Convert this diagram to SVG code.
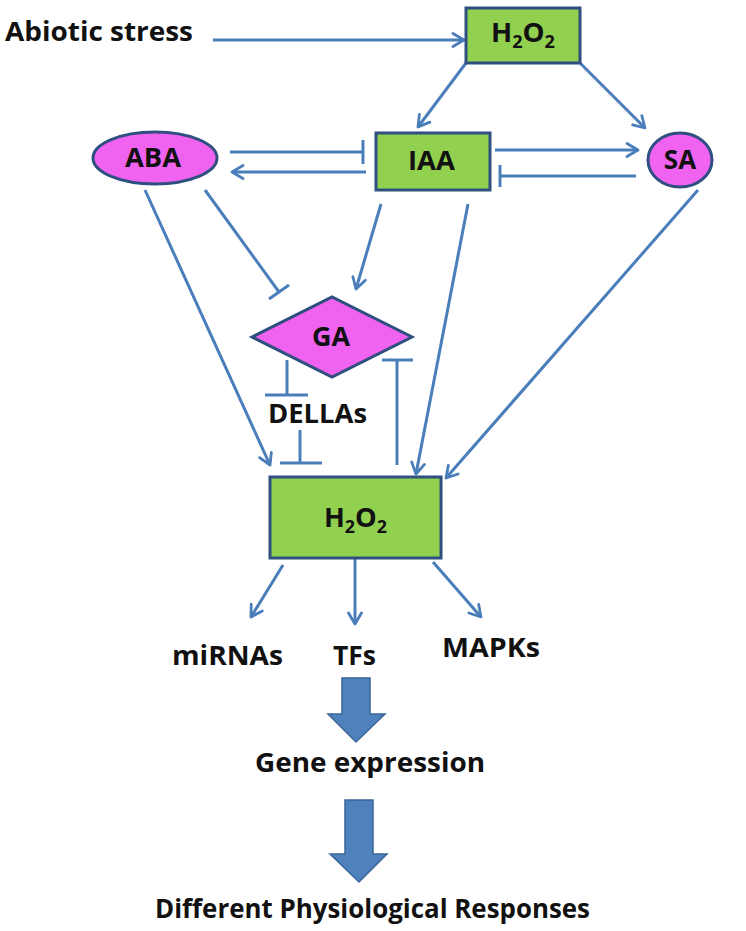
<svg xmlns="http://www.w3.org/2000/svg" width="746" height="931" viewBox="0 0 746 931">
<defs>
<marker id="arr" viewBox="0 0 16 16" refX="13" refY="8" markerWidth="16" markerHeight="16" markerUnits="userSpaceOnUse" orient="auto">
<path d="M2,1.5 L13,8 L2,14.5" fill="none" stroke="#4A7EBB" stroke-width="2.8" stroke-linecap="round" stroke-linejoin="round"/>
</marker>
</defs>
<style>
.t{font-family:"Open Sans","Liberation Sans",Arial,sans-serif;font-weight:bold;fill:#111;}
.box{fill:#92D050;stroke:#2F4F80;stroke-width:3;}
.pink{fill:#F062F0;stroke:#2F4F80;stroke-width:3;}
.c{fill:none;stroke:#4A7EBB;stroke-width:3;stroke-linecap:butt;}
.a{marker-end:url(#arr);}
.big{fill:#4F81BD;stroke:#3A6598;stroke-width:1.5;}
</style>
<rect width="746" height="931" fill="#fff"/>
<g id="connectors">
<line class="c a" x1="213" y1="40" x2="464" y2="40"/>
<line class="c a" x1="466" y1="63" x2="418" y2="127"/>
<line class="c a" x1="580" y1="63" x2="645" y2="128"/>
<line class="c" x1="230" y1="152" x2="363" y2="152"/>
<line class="c" x1="363" y1="140" x2="363" y2="164"/>
<line class="c a" x1="366" y1="172" x2="232" y2="172"/>
<line class="c a" x1="495" y1="150" x2="638" y2="150"/>
<line class="c" x1="636" y1="176" x2="500" y2="176"/>
<line class="c" x1="500" y1="165" x2="500" y2="187"/>
<line class="c a" x1="145" y1="190" x2="270" y2="465"/>
<line class="c" x1="205" y1="190" x2="279" y2="292"/>
<line class="c" x1="269" y1="299" x2="289" y2="285"/>
<line class="c a" x1="381" y1="204" x2="356" y2="289"/>
<line class="c a" x1="468" y1="204" x2="416" y2="474"/>
<line class="c a" x1="698" y1="190" x2="446" y2="478"/>
<line class="c" x1="287" y1="360" x2="287" y2="395"/>
<line class="c" x1="265" y1="395" x2="308" y2="395"/>
<line class="c" x1="300" y1="430" x2="300" y2="463"/>
<line class="c" x1="280" y1="463" x2="322" y2="463"/>
<line class="c" x1="397" y1="465" x2="397" y2="360"/>
<line class="c" x1="382" y1="360" x2="413" y2="360"/>
<line class="c a" x1="283" y1="565" x2="251" y2="617"/>
<line class="c a" x1="355" y1="559" x2="355" y2="624"/>
<line class="c a" x1="433" y1="562" x2="481" y2="617"/>
</g>
<g id="abiotic"><text class="t" x="5" y="41" font-size="26" textLength="188" lengthAdjust="spacingAndGlyphs">Abiotic stress</text></g>
<g id="h2o2top">
<rect class="box" x="466" y="8" width="114" height="55"/>
<text class="t" x="491" y="42" font-size="26" textLength="64" lengthAdjust="spacingAndGlyphs">H<tspan font-size="17" dy="6">2</tspan><tspan dy="-6">O</tspan><tspan font-size="17" dy="6">2</tspan></text>
</g>
<g id="aba">
<ellipse class="pink" cx="155" cy="158" rx="62" ry="26"/>
<text class="t" x="125" y="167" font-size="26" textLength="56" lengthAdjust="spacingAndGlyphs">ABA</text>
</g>
<g id="iaa">
<rect class="box" x="376" y="133" width="114" height="57"/>
<text class="t" x="408" y="170" font-size="26" textLength="47" lengthAdjust="spacingAndGlyphs">IAA</text>
</g>
<g id="sa">
<ellipse class="pink" cx="680" cy="160" rx="32" ry="27"/>
<text class="t" x="680" y="169" font-size="26" text-anchor="middle">SA</text>
</g>
<g id="ga">
<polygon class="pink" points="252,337 332,297 412,337 332,377"/>
<text class="t" x="312" y="346" font-size="26" textLength="38" lengthAdjust="spacingAndGlyphs">GA</text>
</g>
<g id="dellas"><text class="t" x="268" y="423" font-size="26" textLength="99" lengthAdjust="spacingAndGlyphs">DELLAs</text></g>
<g id="h2o2low">
<rect class="box" x="270" y="477" width="171" height="81"/>
<text class="t" x="324" y="527" font-size="26" textLength="63" lengthAdjust="spacingAndGlyphs">H<tspan font-size="17" dy="6">2</tspan><tspan dy="-6">O</tspan><tspan font-size="17" dy="6">2</tspan></text>
</g>
<g id="mirnas"><text class="t" x="172" y="665" font-size="26" textLength="111" lengthAdjust="spacingAndGlyphs">miRNAs</text></g>
<g id="tfs"><text class="t" x="333" y="665" font-size="26" textLength="43" lengthAdjust="spacingAndGlyphs">TFs</text></g>
<g id="mapks"><text class="t" x="442" y="657" font-size="26" textLength="98" lengthAdjust="spacingAndGlyphs">MAPKs</text></g>
<g id="arrow1"><polygon class="big" points="342,678 370,678 370,714 385,714 356,742 328,714 342,714"/></g>
<g id="gene"><text class="t" x="255" y="772" font-size="26" textLength="230" lengthAdjust="spacingAndGlyphs">Gene expression</text></g>
<g id="arrow2"><polygon class="big" points="345,800 373,800 373,854 387,854 359,882 330,854 345,854"/></g>
<g id="responses"><text class="t" x="155" y="918" font-size="27" textLength="435" lengthAdjust="spacingAndGlyphs">Different Physiological Responses</text></g>
</svg>
